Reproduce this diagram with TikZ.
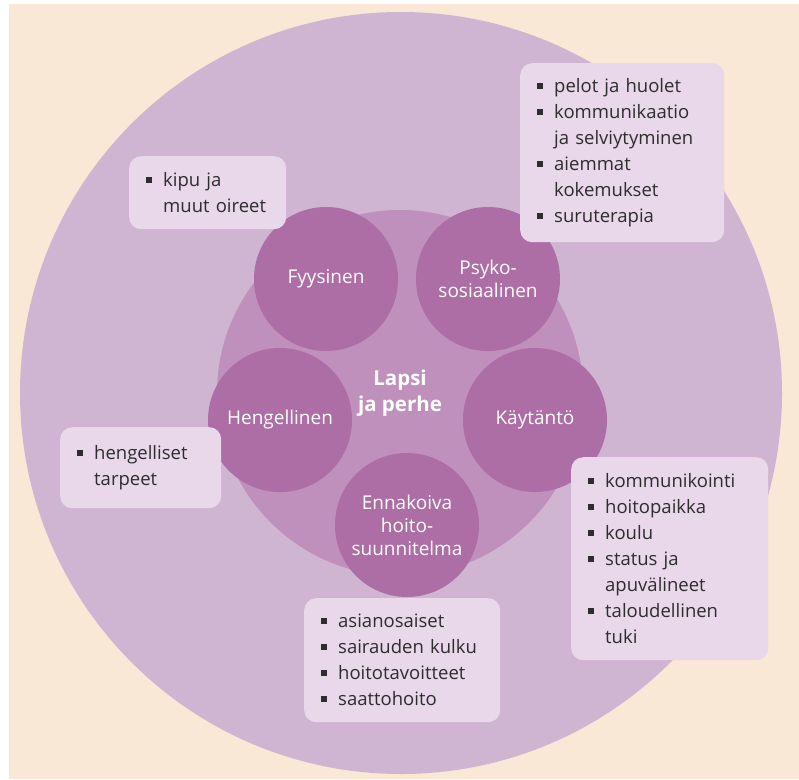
\documentclass[tikz,border=0pt]{standalone}
\usepackage{fontspec}
\setmainfont{Open Sans}
\usepackage{tikz}
\usepackage{color}

\definecolor{tausta}{HTML}{F9E8D5}
\definecolor{ulko}{HTML}{D0B5D3}
\definecolor{keski}{HTML}{BF90BC}
\definecolor{pallo}{HTML}{AD6DA5}
\definecolor{laatikko}{HTML}{E8D8EA}
\definecolor{teksti}{HTML}{2D2D2D}

\newcommand{\li}[1]{\mbox{\makebox[17pt][l]{\raisebox{4pt}{\rule{6pt}{6pt}}}#1}}
\newcommand{\jatko}[1]{\mbox{\hspace*{17pt}#1}}

\begin{document}
\begin{tikzpicture}[x=1pt,y=-1pt]
\tikzstyle{ympyra}=[circle, inner sep=0pt, fill=pallo, text=white, align=center, minimum size=144pt, font=\fontsize{19}{23}\selectfont]
\tikzstyle{laatikot}=[rectangle, rounded corners=12pt, fill=laatikko, text=teksti, inner xsep=17pt, inner ysep=0pt, anchor=north west, align=left, font=\fontsize{18.5}{26}\selectfont]
\useasboundingbox (0,0) rectangle (799,779);
\fill[tausta] (9,4) rectangle (799,779);
 \node[circle, fill=ulko, minimum size=762pt, inner sep=0pt] (ulkoympyra) at (401,393) {};
 \node[circle, fill=keski, minimum size=366pt, inner sep=0pt, text=white, align=center,
   font=\fontsize{20.5}{26}\selectfont\bfseries] (lapsi) at (400,393) {Lapsi\\ja perhe};

 \node[ympyra] (fyysinen) at (326,279) {Fyysinen};
 \node[ympyra] (psyko) at (488,279) {Psyko-\\sosiaalinen};
 \node[ympyra] (hengellinen) at (280,420) {Hengellinen};
 \node[ympyra] (kaytanto) at (535,420) {Käytäntö};
 \node[ympyra] (ennakoiva) at (407,525) {Ennakoiva\\hoito-\\suunnitelma};

 \node[laatikot, text width=123pt, minimum height=73pt] (kipu) at (129,156)
   {\li{kipu ja}\\\jatko{muut oireet}};
 \node[laatikot, text width=170pt, minimum height=179pt] (pelot) at (520,63)
   {\li{pelot ja huolet}\\\li{kommunikaatio}\\\jatko{ja selviytyminen}\\\li{aiemmat}\\\jatko{kokemukset}\\\li{suruterapia}};
 \node[laatikot, text width=127pt, minimum height=81pt] (tarpeet) at (60,427)
   {\li{hengelliset}\\\jatko{tarpeet}};
 \node[laatikot, text width=162pt, minimum height=124pt] (asiat) at (304,598)
   {\li{asianosaiset}\\\li{sairauden kulku}\\\li{hoitotavoitteet}\\\li{saattohoito}};
 \node[laatikot, text width=163pt, minimum height=203pt] (kommunikointi) at (571,457)
   {\li{kommunikointi}\\\li{hoitopaikka}\\\li{koulu}\\\li{status ja}\\\jatko{apuvälineet}\\\li{taloudellinen}\\\jatko{tuki}};
\end{tikzpicture}
\end{document}
